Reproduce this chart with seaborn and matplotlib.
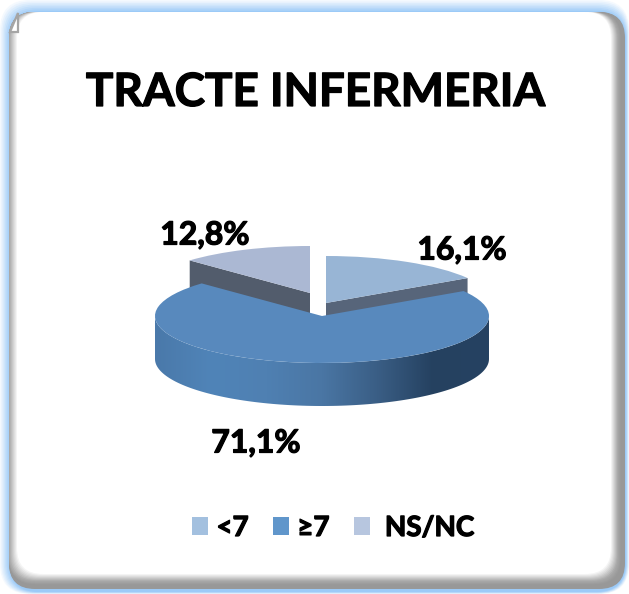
import numpy as np
import matplotlib
matplotlib.use('Agg')
import matplotlib.pyplot as plt
import matplotlib.patheffects as pe
import seaborn as sns
from matplotlib.patches import FancyBboxPatch, Patch, Polygon

CATEGORIES = ['<7', '≥7', ' NS/NC']
VALUES = [16.1, 71.1, 12.8]
TITLE = 'TRACTE INFERMERIA'

W, H = 629, 594
TOP_COLORS = ['#98B5D5', '#5889BD', '#ABB8D3']
KEY_COLORS = ['#A3C0DF', '#6096CB', '#B7C6DF']
WALL_COLORS = ['#57657A', None, '#525C6C']
SIDE_COLORS = ['#4A79AA', '#5084B8', '#4F80B2', '#4A76A4', '#3A5E85', '#254160', '#264262']

# where each slice sits on screen (pixels), the slices are pulled apart by hand
CENTERS = [(326, 303), (322, 316), (310, 293)]
LABEL_POS = [(462, 250), (256, 443), (205, 235)]
RADIUS = 167
FLAT = 47
DEPTH = 43
k = RADIUS / FLAT


def to_data(px, py):
    return px, (H - py) * k


def rounded(ax, x0, y0, x1, y1, color, rad):
    ax.add_patch(FancyBboxPatch((x0, y0), x1 - x0, y1 - y0, facecolor=color, edgecolor='none',
                                boxstyle='round,pad=0,rounding_size=%f' % rad))


sns.set_theme(style='white')
plt.rcParams['font.family'] = ['Lato', 'DejaVu Sans']
heavy = [pe.withStroke(linewidth=0.9, foreground='black')]

fig = plt.figure(figsize=(W / 100, H / 100), dpi=100, facecolor='white')

# frame: blue glow, grey shadow, white card
bg = fig.add_axes([0, 0, 1, 1], zorder=0)
bg.set_xlim(0, W)
bg.set_ylim(H, 0)
bg.axis('off')
blue = sns.blend_palette(['#F4F9FE', '#9CCAF7'], 8)
for i, c in enumerate(blue):
    t = i / 7
    rounded(bg, 9 * t, 11 * t, W - 3 * t, H - 2 * t, c, 30)
grey = sns.blend_palette(['#989898', '#989898', '#A8A8A8', '#D4D4D4', '#FFFFFF'], 16)
for i, c in enumerate(grey):
    t = i / 15
    left = 9 + 8 * max(0, (t - 0.5) * 2)
    rounded(bg, left, 12, W - 4 - 14 * t, H - 5 - 15 * t, c, 26)
bg.add_patch(Polygon([(10, 32), (18, 13), (18, 32)], closed=True, facecolor='white', edgecolor='#A5A5A5', lw=1.6))
bg.text(316, 93, TITLE, ha='center', va='center', fontsize=33, fontweight='bold', color='black', path_effects=heavy)

# pie, flattened by the y limits of this axes
ax = fig.add_axes([0, 0, 1, 1], zorder=1)
wedges, _ = ax.pie(VALUES, colors=TOP_COLORS, startangle=90, counterclock=False, radius=RADIUS)
ax.set_aspect('auto')
ax.set_xlim(0, W)
ax.set_ylim(0, H * k)
ax.patch.set_visible(False)
ax.axis('off')

biggest = int(np.argmax(VALUES))
for i, w in enumerate(wedges):
    w.set_center(to_data(*CENTERS[i]))
    w.set_linewidth(0)
    w.set_zorder(4 if i == biggest else 2)
    if i == biggest:
        continue
    # the straight wall facing the viewer
    cx, cy = w.center
    a = min(w.theta1, w.theta2, key=lambda d: np.sin(np.radians(d)))
    ex = cx + RADIUS * np.cos(np.radians(a))
    ey = cy + RADIUS * np.sin(np.radians(a))
    d = DEPTH * k
    ax.fill([cx, ex, ex, cx], [cy, ey, ey - d, cy - d], color=WALL_COLORS[i], lw=0, zorder=1)

# outer rim of the big slice, horizontal gradient clipped to the visible part
cx, cy = wedges[biggest].center
ang = np.radians(np.linspace(180, 360, 120))
arc_x = cx + RADIUS * np.cos(ang)
arc_y = cy + RADIUS * np.sin(ang)
rim = Polygon(np.r_[np.c_[arc_x, arc_y], np.c_[arc_x[::-1], arc_y[::-1] - DEPTH * k]],
              closed=True, transform=ax.transData, facecolor='none', edgecolor='none')
ax.add_patch(rim)
cmap = sns.blend_palette(SIDE_COLORS, as_cmap=True)
im = ax.imshow(np.linspace(0, 1, 256)[None, :], extent=[cx - RADIUS, cx + RADIUS, cy - (FLAT + DEPTH) * k, cy],
               cmap=cmap, aspect='auto', zorder=3)
im.set_clip_path(rim)
ax.set_xlim(0, W)
ax.set_ylim(0, H * k)

for v, (px, py) in zip(VALUES, LABEL_POS):
    ax.text(*to_data(px, py), ('%.1f%%' % v).replace('.', ','), ha='center', va='center',
            fontsize=23, fontweight='bold', color='black', zorder=6, path_effects=heavy)

handles = [Patch(facecolor=c, edgecolor='none') for c in KEY_COLORS]
leg = ax.legend(handles, CATEGORIES, loc='center left', bbox_to_anchor=(192 / W, 1 - 528 / H), ncol=3, frameon=False,
                prop={'size': 20, 'weight': 'bold'}, handlelength=0.58, handleheight=0.6, handletextpad=0.3,
                columnspacing=0.87, labelcolor='black', borderpad=0, borderaxespad=0)
for t in leg.get_texts():
    t.set_path_effects(heavy)

fig.savefig('out.png', dpi=100)
